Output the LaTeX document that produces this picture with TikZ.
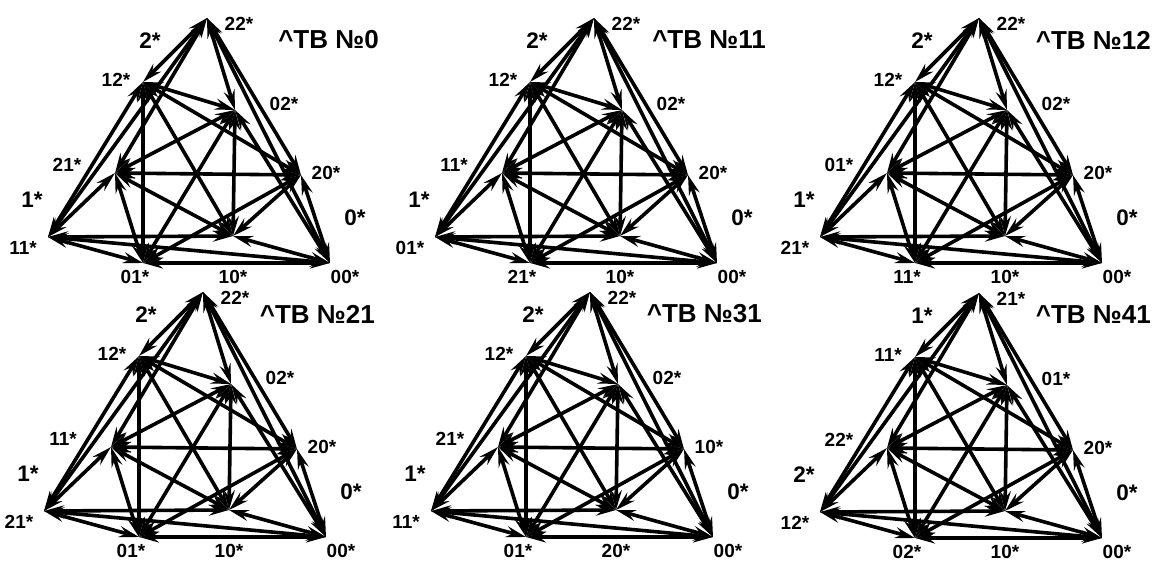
\documentclass[tikz,border=0pt]{standalone}
\usepackage{fontspec}
\setmainfont{Liberation Sans}
\usetikzlibrary{arrows.meta}
\tikzset{
  >={Stealth[length=20pt,width=11pt,inset=7pt]},
  edgeline/.style={line width=3.6pt,<->},
  vlabel/.style={font=\bfseries\fontsize{19}{21}\selectfont,inner sep=0pt},
  glabel/.style={font=\bfseries\fontsize{22.5}{25}\selectfont,inner sep=0pt},
  tbtitle/.style={font=\bfseries\fontsize{26}{29}\selectfont,inner sep=0pt,anchor=east},
}
% One graph of nine vertices; #1 is the prefix of the vertex names
\newcommand{\tbgraph}[1]{%
  \coordinate (#1T) at (207,18);
  \coordinate (#1A) at (143,82);
  \coordinate (#1B) at (235,110);
  \coordinate (#1C) at (115,173);
  \coordinate (#1D) at (301,175);
  \coordinate (#1E) at (48,237);
  \coordinate (#1F) at (233,236);
  \coordinate (#1G) at (143,263);
  \coordinate (#1H) at (330,263);
  \foreach \u/\v in {T/A,T/B,T/C,T/D,T/E,T/H,
                     A/B,A/D,A/E,A/F,A/G,
                     B/C,B/F,B/G,B/H,
                     C/D,C/E,C/F,C/G,
                     D/F,D/G,D/H,
                     E/F,E/G,E/H,
                     F/H,G/H}
    {\draw[edgeline] (#1\u) -- (#1\v);}
}
% Vertex labels of one panel
\newcommand{\tbvertices}[9]{%
  \node[vlabel] (lT) at (239,24) {#1};
  \node[vlabel] (lA) at (116,80) {#2};
  \node[vlabel] (lB) at (284,104) {#3};
  \node[vlabel] (lC) at (67,165) {#4};
  \node[vlabel] (lD) at (326,173) {#5};
  \node[vlabel] (lE) at (23,248) {#6};
  \node[vlabel] (lF) at (233,277) {#7};
  \node[vlabel] (lG) at (135,277) {#8};
  \node[vlabel] (lH) at (345,277) {#9};
}
% Group labels and title of one panel
\newcommand{\tbgroups}[4]{%
  \node[glabel] (gtop) at (150,41) {#1};
  \node[glabel] (gleft) at (32,200) {#2};
  \node[glabel] (gright) at (355,218) {#3};
  \node[tbtitle] (ttl) at (379,40) {\^{}TB №#4};
}
\begin{document}
\begin{tikzpicture}[x=1pt,y=-1pt]
\useasboundingbox (0,0) rectangle (1159,562);
\fill[white] (0,0) rectangle (1159,562);

\begin{scope}[shift={(0,0)}]
  \tbgraph{a}
  \tbvertices{22*}{12*}{02*}{21*}{20*}{11*}{10*}{01*}{00*}
  \tbgroups{2*}{1*}{0*}{0}
\end{scope}

\begin{scope}[shift={(387,0)}]
  \tbgraph{b}
  \tbvertices{22*}{12*}{02*}{11*}{20*}{01*}{10*}{21*}{00*}
  \tbgroups{2*}{1*}{0*}{11}
\end{scope}

\begin{scope}[shift={(772,0)}]
  \tbgraph{c}
  \tbvertices{22*}{12*}{02*}{01*}{20*}{21*}{10*}{11*}{00*}
  \tbgroups{2*}{1*}{0*}{12}
\end{scope}

\begin{scope}[shift={(-4,274)}]
  \tbgraph{d}
  \tbvertices{22*}{12*}{02*}{11*}{20*}{21*}{10*}{01*}{00*}
  \tbgroups{2*}{1*}{0*}{21}
\end{scope}

\begin{scope}[shift={(383,274)}]
  \tbgraph{e}
  \tbvertices{22*}{12*}{02*}{21*}{10*}{11*}{20*}{01*}{00*}
  \tbgroups{2*}{1*}{0*}{31}
\end{scope}

\begin{scope}[shift={(772,275)}]
  \tbgraph{f}
  \tbvertices{21*}{11*}{01*}{22*}{20*}{12*}{10*}{02*}{00*}
  \tbgroups{1*}{2*}{0*}{41}
\end{scope}
\end{tikzpicture}
\end{document}
